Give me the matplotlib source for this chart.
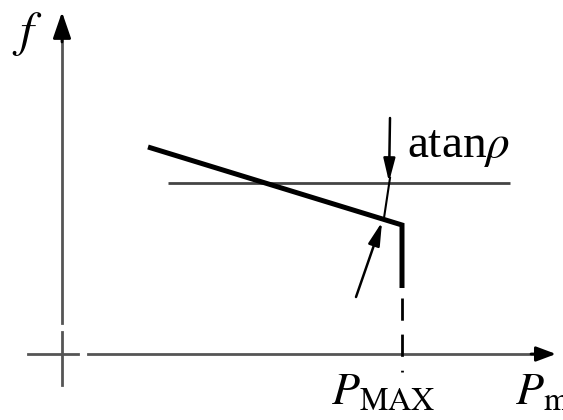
import matplotlib.pyplot as plt

plt.rcParams['mathtext.fontset'] = 'stix'
plt.rcParams['font.family'] = ['Liberation Serif', 'DejaVu Serif']

# drawing units: x to the right, y downwards (same grid as the output pixels)
W, H = 563, 420

# axes of the diagram
origin = (62, 354)
f_axis_top = 12
f_axis_bottom = 385
p_axis_left = 28
p_axis_right = 556

# droop characteristic, kinked at P_MAX
p_max = 402
droop_x = [148, 402, 402]
droop_y = [147, 225, 288]

# reference frequency line
f_ref_y = 183
f_ref_x = [168, 510]

fig = plt.figure(figsize=(W / 100, H / 100), dpi=100)
ax = fig.add_axes([0, 0, 1, 1])
ax.set_xlim(0, W)
ax.set_ylim(H, 0)
ax.axis('off')

axis_col = '#555555'
# f axis, with a small break just above the origin
ax.plot([origin[0], origin[0]], [f_axis_bottom, 332], color=axis_col, lw=2.0)
ax.plot([origin[0], origin[0]], [323, f_axis_top + 25], color=axis_col, lw=2.0)
ax.annotate('', xy=(origin[0], f_axis_top), xytext=(origin[0], f_axis_top + 30),
            arrowprops=dict(arrowstyle='-|>,head_length=1.6,head_width=0.55',
                            color='black', lw=2.0, shrinkA=0, shrinkB=0))

# P axis, with a small break just right of the origin
ax.plot([p_axis_left, 78], [origin[1], origin[1]], color=axis_col, lw=2.0)
ax.plot([88, p_axis_right - 20], [origin[1], origin[1]], color=axis_col, lw=2.0)
ax.annotate('', xy=(p_axis_right, origin[1]), xytext=(p_axis_right - 25, origin[1]),
            arrowprops=dict(arrowstyle='-|>,head_length=1.2,head_width=0.45',
                            color='black', lw=2.0, shrinkA=0, shrinkB=0))

# reference line
ax.plot(f_ref_x, [f_ref_y, f_ref_y], color='#444444', lw=2.0, solid_capstyle='butt')

# droop line
ax.plot(droop_x, droop_y, color='black', lw=3.6, solid_joinstyle='miter',
        solid_capstyle='butt')

# dashed drop from the kink to the P axis
ax.plot([p_max, p_max], [298, 372], color='black', lw=2.0, dashes=(8, 5))

# slope markers
ax.plot([390, 384], [178, 218], color='black', lw=1.5)
ax.annotate('', xy=(389, 182), xytext=(390, 118),
            arrowprops=dict(arrowstyle='-|>,head_length=1.4,head_width=0.35',
                            color='black', lw=1.8, shrinkA=0, shrinkB=0))
ax.annotate('', xy=(382, 222), xytext=(356, 297),
            arrowprops=dict(arrowstyle='-|>,head_length=1.4,head_width=0.35',
                            color='black', lw=1.8, shrinkA=0, shrinkB=0))

# labels
ax.text(12, 46, r'$f$', fontsize=36, ha='left', va='baseline')
ax.text(407, 157, r'atan$\rho$', fontsize=34, ha='left', va='baseline')
ax.text(331, 404, r'$P_{\mathrm{MAX}}$', fontsize=33, ha='left', va='baseline')
ax.text(515, 404, r'$P_{\mathrm{m}}$', fontsize=33, ha='left', va='baseline')

plt.savefig('out.png', dpi=100)
